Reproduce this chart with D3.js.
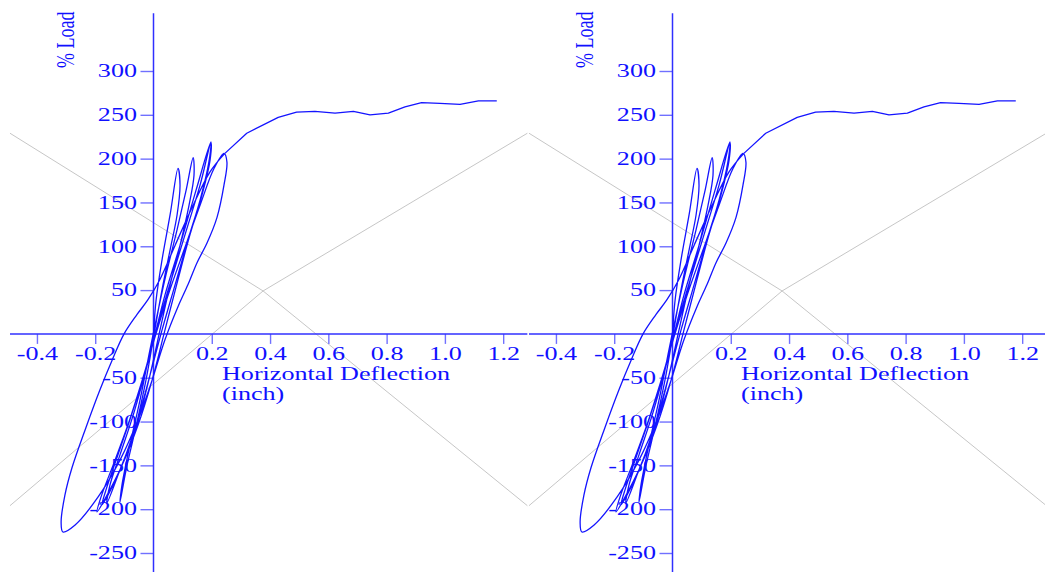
<!DOCTYPE html>
<html>
<head>
<meta charset="utf-8">
<script src="https://cdn.jsdelivr.net/npm/d3@7"></script>
<style>
  body { margin: 0; background: #fff; }
  svg { display: block; }
</style>
</head>
<body>
<svg width="1045" height="572"></svg>
<script>
// hysteresis cycles: deflection (inch) and % load
var defl = [0, 0.009, 0.029, 0.057, 0.084,
    0.091, 0.081, 0.057, 0.029, 0.002, -0.026, -0.063, -0.094, -0.115,
    -0.108, -0.081, -0.046, -0.012, 0.009, 0.039, 0.081, 0.112, 0.136,
    0.139, 0.122, 0.091, 0.057, 0.022, -0.012, -0.057, -0.115, -0.160,
    -0.149, -0.115, -0.070, -0.026, 0.005, 0.039, 0.091, 0.146, 0.197,
    0.190, 0.160, 0.118, 0.074, 0.029, -0.012, -0.060, -0.122, -0.177,
    -0.163, -0.122, -0.081, -0.033, 0.005, 0.050, 0.108, 0.160, 0.197,
    0.194, 0.166, 0.125, 0.084, 0.039, -0.005, -0.053, -0.115, -0.194,
    -0.180, -0.132, -0.088, -0.039, 0.002, 0.050, 0.105, 0.160, 0.208, 0.242,
    0.252, 0.242, 0.218, 0.184, 0.149, 0.118, 0.084, 0.039, -0.005, -0.053, -0.115, -0.190, -0.269, -0.311,
    -0.317, -0.304, -0.280, -0.232, -0.184, -0.142, -0.101, -0.057, -0.019, 0.022, 0.074, 0.132, 0.194, 0.245];
var load = [0, 39, 84, 136, 189,
    170, 136, 96, 50, 0, -53, -110, -155, -192,
    -172, -127, -75, -18, 16, 62, 119, 164, 201,
    181, 147, 101, 56, 4, -47, -104, -155, -193,
    -172, -138, -93, -41, -1, 44, 101, 164, 219,
    196, 153, 107, 56, 4, -47, -104, -161, -195,
    -178, -138, -98, -47, -1, 50, 113, 170, 218,
    198, 158, 113, 62, 4, -53, -104, -155, -203,
    -186, -144, -104, -53, -7, 44, 96, 147, 189, 206,
    196, 170, 133, 104, 81, 56, 31, -7, -53, -98, -144, -186, -218, -226,
    -215, -184, -153, -107, -64, -30, 0, 22, 39, 62, 101, 144, 185, 206];

// final push after the cycles
var pushDefl = [0.245, 0.320, 0.428, 0.491, 0.554, 0.623, 0.686, 0.743, 0.806, 0.863, 0.920, 0.983, 1.052, 1.115, 1.178];
var pushLoad = [206, 229, 247, 253, 254, 252, 254, 250, 252, 259, 264, 263, 262, 266, 266];

// thin grey guide lines (upper V and lower inverted V)
var guideX = [-0.4925, 0.376, 1.283];
var guideUpper = [229, 49, 229];
var guideLower = [-196, 49, -196];

var xTicks = [-0.4, -0.2, 0.2, 0.4, 0.6, 0.8, 1.0, 1.2];
var yTicks = [-250, -200, -150, -100, -50, 50, 100, 150, 200, 250, 300];
var xLimits = [-0.4925, 1.283];
var yLimits = [-272, 366];

var panelOffsets = [0, 519];

var svg = d3.select("svg");
var stretch = 1.45; // glyphs in the original are drawn wide
var font = "'Liberation Serif', 'Times New Roman', serif";

var x = d3.scaleLinear().domain([-0.4, 1.2]).range([36.94, 503.18]);
var y = d3.scaleLinear().domain([-250, 300]).range([553.0, 71.0]);

var cyc = defl.map(function (d, i) { return [d, load[i]]; });
var push = pushDefl.map(function (d, i) { return [d, pushLoad[i]]; });

var smooth = d3.line()
    .x(function (d) { return x(d[0]); })
    .y(function (d) { return y(d[1]); })
    .curve(d3.curveCatmullRom.alpha(0.5));
var straight = d3.line()
    .x(function (d) { return x(d[0]); })
    .y(function (d) { return y(d[1]); });

// plain hyphen for negatives, like the original
function fmt(f) {
    return function (d) { return f(d).replace("\u2212", "-"); };
}

panelOffsets.forEach(function (off) {
    var g = svg.append("g").attr("transform", "translate(" + off + ",0)");

    // grey guides
    [guideUpper, guideLower].forEach(function (arr) {
        g.append("path")
            .attr("d", straight(guideX.map(function (d, i) { return [d, arr[i]]; })))
            .attr("fill", "none")
            .attr("stroke", "#b8b8b8")
            .attr("stroke-width", 0.8);
    });

    // x axis
    var gx = g.append("g")
        .attr("transform", "translate(0," + y(0) + ")")
        .call(d3.axisBottom(x).tickValues(xTicks).tickSize(10).tickPadding(3)
            .tickFormat(fmt(d3.format(".1f"))));
    gx.select(".domain").remove();
    gx.selectAll(".tick line").attr("stroke", "#7070ff").attr("stroke-width", 1.4);
    gx.append("line")
        .attr("x1", x(xLimits[0])).attr("x2", x(xLimits[1]))
        .attr("stroke", "#3030ff").attr("stroke-width", 1.5);

    // y axis
    var gy = g.append("g")
        .attr("transform", "translate(" + x(0) + ",0)")
        .call(d3.axisLeft(y).tickValues(yTicks).tickSize(13).tickPadding(3)
            .tickFormat(fmt(d3.format("d"))));
    gy.select(".domain").remove();
    gy.selectAll(".tick line").attr("stroke", "#7070ff").attr("stroke-width", 1.4);
    gy.append("line")
        .attr("y1", y(yLimits[0])).attr("y2", y(yLimits[1]))
        .attr("stroke", "#3030ff").attr("stroke-width", 1.5);

    [gx, gy].forEach(function (ax) {
        ax.attr("font-family", font).attr("font-size", 18);
        ax.selectAll(".tick text").attr("fill", "#1010ff");
    });
    gx.selectAll(".tick text").attr("transform", "scale(" + stretch + ",1)");
    gy.selectAll(".tick text").attr("x", 0)
        .attr("transform", "translate(-16.5,0) scale(" + stretch + ",1)");

    // titles
    g.append("text")
        .attr("transform", "translate(74,68) scale(" + stretch + ",1) rotate(-90)")
        .attr("font-family", font)
        .attr("font-size", 18)
        .attr("fill", "#1010ff")
        .text("% Load");
    g.append("text")
        .attr("transform", "translate(222,380) scale(" + stretch + ",1)")
        .attr("font-family", font)
        .attr("font-size", 18)
        .attr("fill", "#1010ff")
        .text("Horizontal Deflection");
    g.append("text")
        .attr("transform", "translate(222,400) scale(" + stretch + ",1)")
        .attr("font-family", font)
        .attr("font-size", 18)
        .attr("fill", "#1010ff")
        .text("(inch)");

    // load-deflection trace
    g.append("path")
        .attr("d", smooth(cyc))
        .attr("fill", "none")
        .attr("stroke", "#1414ff")
        .attr("stroke-width", 1.3);
    g.append("path")
        .attr("d", straight(push))
        .attr("fill", "none")
        .attr("stroke", "#1414ff")
        .attr("stroke-width", 1.3)
        .attr("stroke-linejoin", "round");
});
</script>
</body>
</html>
